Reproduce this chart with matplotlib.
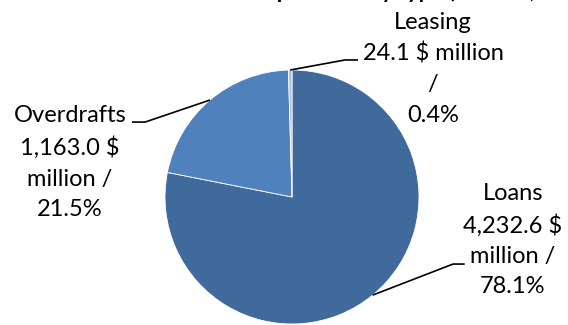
import numpy as np
import matplotlib.pyplot as plt

plt.rcParams['font.family'] = ['Lato', 'DejaVu Sans']

# loan portfolio split, $ million
categories = ['Loans', 'Overdrafts', 'Leasing']
values = [4232.6, 1163.0, 24.1]
colors = ['#416A9C', '#4F81BD', '#A9C0DE']
title = 'Distribution of the loan portfolio by type (Total: 5,419.7 $ million)'

total = sum(values)
shares = [v / total * 100 for v in values]

# label text, broken over lines the way the chart shows them
labels = [
    f'{categories[0]}\n{values[0]:,.1f} $\nmillion /\n{shares[0]:.1f}%',
    f'{categories[1]}\n{values[1]:,.1f} $\nmillion /\n{shares[1]:.1f}%',
    f'{categories[2]}\n{values[2]:,.1f} $ million\n/\n{shares[2]:.1f}%',
]
# where each label block and its leader elbow sit (pie radius = 1)
label_pos = [(1.74, -0.34), (-1.75, 0.27), (1.11, 1.01)]
elbows = [((1.268, -0.528), (1.36, -0.528)),
          ((-1.157, 0.59), (-1.26, 0.59)),
          ((0.417, 1.079), (0.52, 1.079))]

fig = plt.figure(figsize=(5.68, 3.25), dpi=100)
ax = fig.add_axes([165 / 568, 1 / 325, 254 / 568, 254 / 325])

wedges, _ = ax.pie(values, colors=colors, startangle=90, counterclock=False,
                   radius=1, wedgeprops=dict(edgecolor='white', linewidth=0.6))
ax.set_xlim(-1, 1)
ax.set_ylim(-1, 1)
ax.set_aspect('equal')
ax.axis('off')

for w, text, (tx, ty), (e1, e2) in zip(wedges, labels, label_pos, elbows):
    mid = np.deg2rad((w.theta1 + w.theta2) / 2)
    x0, y0 = np.cos(mid), np.sin(mid)
    ax.plot([x0, e1[0], e2[0]], [y0, e1[1], e2[1]], color='black', lw=1.2,
            clip_on=False, solid_capstyle='butt')
    ax.text(tx, ty, text, ha='center', va='center', fontsize=17,
            linespacing=1.55, clip_on=False)

# chart title sits mostly above the top edge
fig.text(40 / 568, 1 + 2 / 325, title, ha='left', va='baseline',
         fontsize=16, fontweight='bold')

fig.savefig('out.png', dpi=100)
